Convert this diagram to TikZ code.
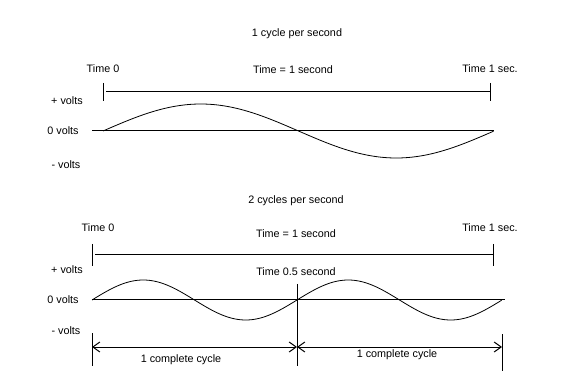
\documentclass[tikz,border=0pt]{standalone}
\usepackage{fontspec}
\setmainfont{Liberation Sans}
\usetikzlibrary{arrows.meta}
\begin{document}
\begin{tikzpicture}[x=1pt,y=-1pt,
  lbl/.style={inner sep=0pt,font=\fontsize{10.8pt}{12pt}\selectfont},
  ln/.style={line width=1pt,black},
  wave/.style={line width=0.8pt,black},
  dim/.style={line width=1pt,{Straight Barb[length=7pt,width=10pt]}-{Straight Barb[length=7pt,width=10pt]}}]
\useasboundingbox (0,0) rectangle (584,390);
% ---------- top diagram ----------
\node[lbl] (t1) at (297,34) {1 cycle per second};
\node[lbl] (a0) at (103,69) {Time 0};
\node[lbl] (a1) at (293,70) {Time = 1 second};
\node[lbl] (a2) at (490,69) {Time 1 sec.};
\node[lbl] (ap) at (67,101) {+ volts};
\node[lbl] (az) at (63,131) {0 volts};
\node[lbl] (am) at (66,165) {- volts};
\coordinate (at0) at (103,83); \coordinate (ab0) at (103,101);
\coordinate (at1) at (490,83); \coordinate (ab1) at (490,101);
\coordinate (al0) at (106,92); \coordinate (al1) at (490,92);
\coordinate (az0) at (92,131); \coordinate (az1) at (494,131);
\draw[ln] (at0) -- (ab0);
\draw[ln] (at1) -- (ab1);
\draw[ln] (al0) -- (al1);
\draw[ln] (az0) -- (az1);
\draw[wave] plot[domain=0:1,samples=120,smooth] ({103+391*\x},{131-27*sin(360*\x)});
% ---------- bottom diagram ----------
\node[lbl] (t2) at (296,201) {2 cycles per second};
\node[lbl] (b0) at (98,228) {Time 0};
\node[lbl] (b1) at (296,234) {Time = 1 second};
\node[lbl] (b2) at (490,228) {Time 1 sec.};
\node[lbl] (bh) at (296,272) {Time 0.5 second};
\node[lbl] (bp) at (67,270) {+ volts};
\node[lbl] (bz) at (63,300) {0 volts};
\node[lbl] (bm) at (66,331) {- volts};
\coordinate (bt0) at (92,244); \coordinate (bb0) at (92,266);
\coordinate (bt1) at (493,244); \coordinate (bb1) at (493,266);
\coordinate (bl0) at (95,255); \coordinate (bl1) at (493,255);
\coordinate (bz0) at (92,300); \coordinate (bz1) at (505,300);
\coordinate (bmt) at (297,284); \coordinate (bmb) at (297,366);
\coordinate (bat0) at (92,333); \coordinate (bab0) at (92,366);
\coordinate (bat1) at (502,334); \coordinate (bab1) at (502,371);
\coordinate (bd0) at (92,347); \coordinate (bdm) at (297,347); \coordinate (bd1) at (502,347);
\draw[ln] (bt0) -- (bb0);
\draw[ln] (bt1) -- (bb1);
\draw[ln] (bl0) -- (bl1);
\draw[ln] (bz0) -- (bz1);
\draw[ln] (bmt) -- (bmb);
\draw[ln] (bat0) -- (bab0);
\draw[ln] (bat1) -- (bab1);
\draw[wave] plot[domain=0:1,samples=200,smooth] ({92+410*\x},{300-20*sin(720*\x)});
\draw[dim] (bd0) -- (bdm);
\draw[dim] (bdm) -- (bd1);
\node[lbl] (c1) at (181,360) {1 complete cycle};
\node[lbl] (c2) at (397,355) {1 complete cycle};
\end{tikzpicture}
\end{document}
